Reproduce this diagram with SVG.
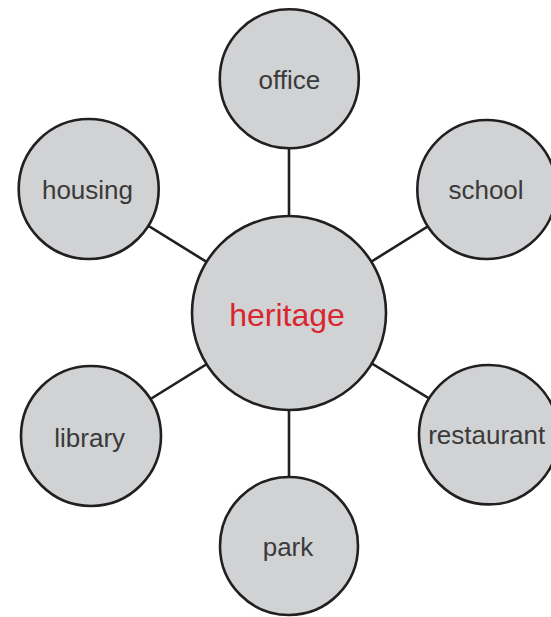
<svg xmlns="http://www.w3.org/2000/svg" width="551" height="617" viewBox="0 0 551 617">
<style>
.node circle{fill:#d1d2d4;stroke:#231f20;stroke-width:2.6}
.lbl{font-family:"Liberation Sans",Arial,sans-serif;font-size:26px;fill:#3a3a3a;text-anchor:middle}
.main{font-size:32px;fill:#d9252e}
#connectors line{stroke:#231f20;stroke-width:2.6}
</style>
<rect width="551" height="617" fill="#ffffff"/>
<g id="connectors">
<line x1="289" y1="313" x2="289" y2="79"/>
<line x1="289" y1="313" x2="89" y2="189"/>
<line x1="289" y1="313" x2="487" y2="189.5"/>
<line x1="289" y1="313" x2="91" y2="436"/>
<line x1="289" y1="313" x2="488.5" y2="434.7"/>
<line x1="289" y1="313" x2="289" y2="546"/>
</g>
<g id="office" class="node"><circle cx="289.3" cy="78.8" r="69.5"/><text class="lbl" x="289.3" y="89.3">office</text></g>
<g id="housing" class="node"><circle cx="88.7" cy="189" r="70"/><text class="lbl" x="87.5" y="199">housing</text></g>
<g id="school" class="node"><circle cx="486.8" cy="189.5" r="69.5"/><text class="lbl" x="486" y="198.7">school</text></g>
<g id="heritage" class="node"><circle cx="289" cy="313" r="97"/><text class="lbl main" x="287" y="326">heritage</text></g>
<g id="library" class="node"><circle cx="91" cy="436" r="70"/><text class="lbl" x="89.7" y="446.7">library</text></g>
<g id="restaurant" class="node"><circle cx="488.7" cy="434.7" r="69.7"/><text class="lbl" x="486.7" y="444">restaurant</text></g>
<g id="park" class="node"><circle cx="289" cy="546" r="69"/><text class="lbl" x="288" y="556">park</text></g>
</svg>
